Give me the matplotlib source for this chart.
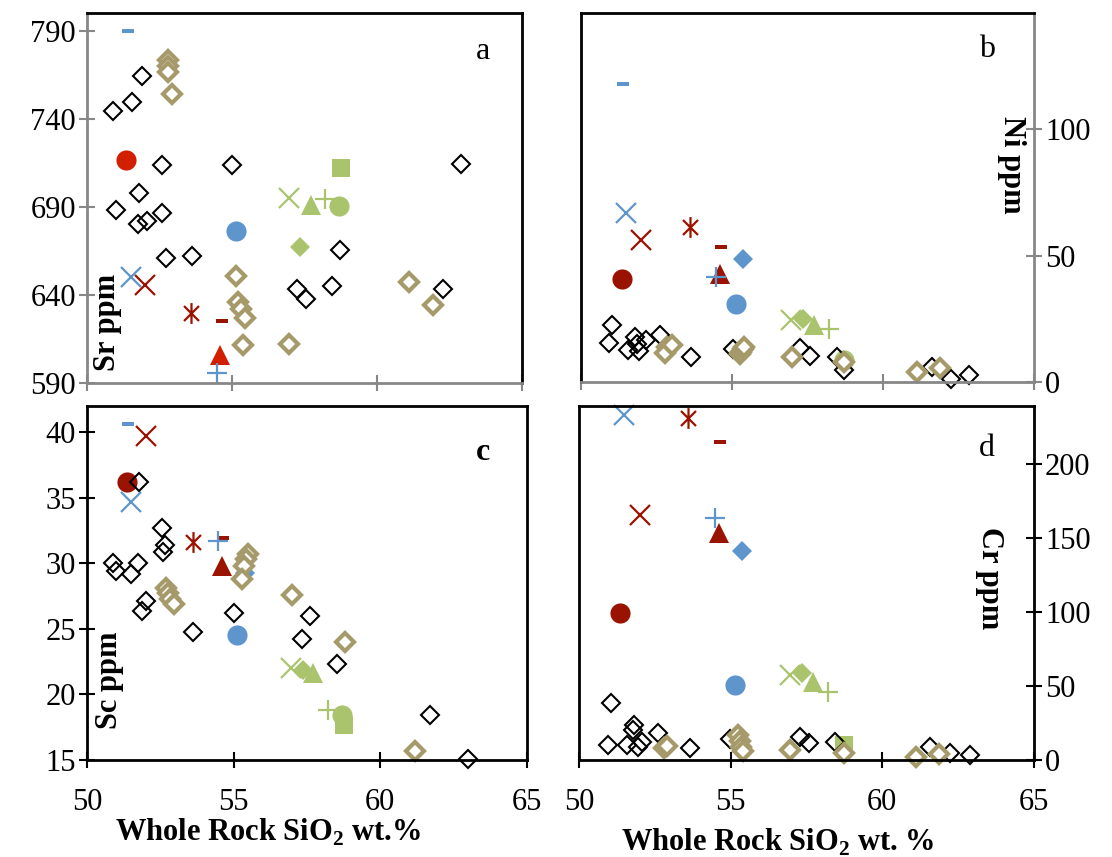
import numpy as np
import matplotlib
matplotlib.use("Agg")
import matplotlib.pyplot as plt
from matplotlib.path import Path

plt.rcParams['font.family'] = ['Liberation Serif', 'DejaVu Serif']
plt.rcParams['mathtext.fontset'] = 'custom'
plt.rcParams['mathtext.rm'] = 'Liberation Serif'
plt.rcParams['mathtext.bf'] = 'Liberation Serif:bold'

# single-sample symbols: SiO2 and element contents (nan = not shown)
sym_names = ['red_x', 'red_star', 'red_dash', 'red_tri', 'red_circ',
             'blue_dash', 'blue_x', 'blue_plus', 'blue_diam', 'blue_circ',
             'green_x', 'green_diam', 'green_tri', 'green_plus', 'green_circ', 'green_sq']
sym_sio2 = [52.0, 53.6, 54.65, 54.6, 51.35,
            51.4, 51.5, 54.47, 55.38, 55.13,
            56.97, 57.35, 57.72, 58.2, 58.7, 58.75]
sym_sr = [645.7, 629.6, 625.4, 606.0, 716.7,
          790.0, 650.0, 595.5, np.nan, 676.5,
          695.0, 667.0, 691.0, 694.4, 690.6, 712.0]
sym_ni = [56.2, 61.4, 53.5, 42.8, 40.6,
          118.0, 67.0, 41.5, 48.7, 31.0,
          24.4, 25.0, 22.4, 20.9, 8.7, np.nan]
sym_sc = [39.7, 31.6, 31.95, 29.8, 36.2,
          40.6, 34.7, 31.7, 29.3, 24.5,
          22.0, 21.9, 21.6, 18.8, 18.4, 17.7]
sym_cr = [165.5, 231.0, 215.0, 153.0, 99.1,
          np.nan, 233.0, 163.3, 141.4, 50.7,
          57.4, 58.6, 52.9, 46.2, np.nan, 10.0]

# black open diamonds
blk_sr_x = [50.9, 51.56, 51.9, 52.6, 55.0, 51.8, 51.0, 51.75, 52.06, 52.57, 52.72, 53.63,
            57.23, 57.55, 58.72, 58.46, 62.26, 62.88]
blk_sr_y = [744.5, 749.7, 764.0, 713.5, 713.5, 698.0, 688.3, 680.0, 682.0, 686.4, 660.8, 662.3,
            643.2, 637.5, 665.6, 645.3, 643.4, 714.4]
blk_ni_x = [51.04, 50.94, 51.79, 51.57, 51.93, 52.15, 52.62, 53.64, 55.04, 57.25, 57.58, 58.47,
            58.72, 61.61, 62.24, 62.86, 51.85]
blk_ni_y = [22.4, 15.5, 17.8, 12.6, 12.3, 16.5, 18.5, 10.0, 12.9, 13.3, 10.4, 10.0,
            4.7, 6.0, 1.1, 2.8, 15.0]
blk_sc_x = [51.77, 52.57, 52.65, 52.6, 50.87, 51.0, 51.74, 51.5, 52.0, 51.87, 53.63, 55.0,
            57.6, 57.32, 58.53, 61.7, 62.98]
blk_sc_y = [36.2, 32.7, 31.4, 30.9, 30.0, 29.4, 30.0, 29.2, 27.1, 26.4, 24.8, 26.2,
            26.0, 24.2, 22.3, 18.4, 15.05]
blk_cr_x = [51.05, 51.82, 51.77, 50.95, 51.57, 51.96, 52.07, 52.62, 53.66, 54.98, 57.27, 57.57,
            58.45, 61.58, 62.24, 62.88]
blk_cr_y = [38.3, 23.6, 20.3, 10.1, 10.1, 9.0, 12.4, 18.0, 7.9, 14.0, 15.3, 11.3,
            12.4, 9.0, 5.0, 3.4]

# tan open diamonds
tan_sr_x = [52.78, 52.78, 52.78, 52.94, 55.14, 55.2, 55.3, 55.45, 55.37, 56.98, 61.1, 61.92]
tan_sr_y = [773.5, 769.7, 766.3, 754.2, 651.0, 636.0, 632.0, 627.0, 611.6, 612.0, 647.6, 634.3]
tan_ni_x = [52.84, 52.78, 53.0, 55.25, 55.3, 55.35, 55.4, 56.98, 58.71, 61.12, 61.89]
tan_ni_y = [13.9, 11.3, 14.6, 11.0, 12.0, 13.0, 14.0, 10.0, 7.8, 4.1, 5.4]
tan_sc_x = [55.49, 55.42, 55.35, 55.28, 52.7, 52.75, 52.82, 52.95, 57.0, 58.78, 61.19]
tan_sc_y = [30.7, 30.3, 29.8, 28.8, 28.1, 27.7, 27.3, 26.9, 27.6, 24.0, 15.7]
tan_cr_x = [52.8, 52.9, 55.25, 55.3, 55.35, 55.4, 56.96, 58.72, 61.1, 61.87]
tan_cr_y = [7.9, 9.5, 17.0, 13.0, 9.0, 6.0, 6.8, 5.0, 2.3, 3.8]

DARKRED = '#9A1200'
BRIGHTRED = '#D11F00'
BLUE = '#5E95CC'
GREEN = '#AAC46E'
TAN = '#A6996A'
GRAY = '#878787'

asterisk = Path([(0, 1), (0, -1), (-0.72, 0.72), (0.72, -0.72), (-0.72, -0.72), (0.72, 0.72)],
                [Path.MOVETO, Path.LINETO] * 3)
dash = Path([(-1, -0.38), (1, -0.38), (1, 0.38), (-1, 0.38), (-1, -0.38)],
            [Path.MOVETO, Path.LINETO, Path.LINETO, Path.LINETO, Path.CLOSEPOLY])

sym_style = {
    'red_x': dict(marker='x', ms=14, mew=1.6, mec=DARKRED),
    'red_star': dict(marker=asterisk, ms=15, mew=1.6, mec=DARKRED),
    'red_dash': dict(marker=dash, ms=9, mew=0, mfc=DARKRED),
    'red_tri': dict(marker='^', ms=14, mew=0, mfc=DARKRED),
    'red_circ': dict(marker='o', ms=14.5, mew=0, mfc=DARKRED),
    'blue_dash': dict(marker=dash, ms=9, mew=0, mfc=BLUE),
    'blue_x': dict(marker='x', ms=14, mew=1.6, mec=BLUE),
    'blue_plus': dict(marker='+', ms=15, mew=1.6, mec=BLUE),
    'blue_diam': dict(marker='D', ms=10, mew=0, mfc=BLUE),
    'blue_circ': dict(marker='o', ms=14.5, mew=0, mfc=BLUE),
    'green_x': dict(marker='x', ms=14, mew=1.6, mec=GREEN),
    'green_diam': dict(marker='D', ms=10, mew=0, mfc=GREEN),
    'green_tri': dict(marker='^', ms=14, mew=0, mfc=GREEN),
    'green_plus': dict(marker='+', ms=15, mew=1.6, mec=GREEN),
    'green_circ': dict(marker='o', ms=14.5, mew=0, mfc=GREEN),
    'green_sq': dict(marker='s', ms=13.5, mew=0, mfc=GREEN),
}

fig = plt.figure(figsize=(11.12, 8.57), dpi=100)
W, H = 1112.0, 857.0


def px_axes(l, r, t, b):
    return fig.add_axes([l / W, 1 - b / H, (r - l) / W, (b - t) / H])


def draw_panel(ax, vals, bx, by, tx, ty, bright=False):
    for name, xv, yv in zip(sym_names, sym_sio2, vals):
        if np.isnan(yv):
            continue
        st = dict(sym_style[name])
        if bright and name in ('red_tri', 'red_circ'):
            st['mfc'] = BRIGHTRED
        ax.plot([xv], [yv], linestyle='none', clip_on=False, **st)
    ax.plot(bx, by, linestyle='none', marker='D', ms=9.5, mfc='none', mec='black',
            mew=1.5, clip_on=False)
    ax.plot(tx, ty, linestyle='none', marker='D', ms=9.5, mfc='white', mec=TAN,
            mew=3, clip_on=False)
    ax.set_xlim(50, 65)
    ax.set_xticks([50, 55, 60, 65])


def style_axes(ax, axis_color, frame_color, yside):
    for s in ax.spines.values():
        s.set_linewidth(2)
        s.set_color(frame_color)
    ax.spines['bottom'].set_color(axis_color)
    ax.spines[yside].set_color(axis_color)
    ax.tick_params(direction='inout', length=12, width=1.5, color=axis_color,
                   labelsize=22, labelcolor='black')
    ax.tick_params(axis='x', pad=14)
    ax.tick_params(axis='y', pad=2)
    if yside == 'right':
        ax.yaxis.tick_right()


# a: Sr
ax_a = px_axes(87, 522, 13, 383)
draw_panel(ax_a, sym_sr, blk_sr_x, blk_sr_y, tan_sr_x, tan_sr_y, bright=True)
ax_a.set_ylim(590, 800)
ax_a.set_yticks([590, 640, 690, 740, 790])
style_axes(ax_a, GRAY, 'black', 'left')
ax_a.set_xticklabels([])
ax_a.text(0.048, 0.165, 'Sr ppm', transform=ax_a.transAxes, rotation=90, fontsize=22,
          fontweight='bold', ha='center', va='center')
ax_a.text(0.91, 0.895, 'a', transform=ax_a.transAxes, fontsize=23, ha='center', va='center')

# b: Ni
ax_b = px_axes(581, 1034, 13, 382)
draw_panel(ax_b, sym_ni, blk_ni_x, blk_ni_y, tan_ni_x, tan_ni_y)
ax_b.set_ylim(0, 146)
ax_b.set_yticks([0, 50, 100])
style_axes(ax_b, GRAY, 'black', 'right')
ax_b.set_xticklabels([])
ax_b.text(0.951, 0.588, 'Ni ppm', transform=ax_b.transAxes, rotation=270, fontsize=22,
          fontweight='bold', ha='center', va='center')
ax_b.text(0.896, 0.90, 'b', transform=ax_b.transAxes, fontsize=23, ha='center', va='center')

# c: Sc
ax_c = px_axes(87, 527, 406, 760)
draw_panel(ax_c, sym_sc, blk_sc_x, blk_sc_y, tan_sc_x, tan_sc_y)
ax_c.set_ylim(15, 42)
ax_c.set_yticks([15, 20, 25, 30, 35, 40])
style_axes(ax_c, 'black', 'black', 'left')
ax_c.text(0.052, 0.226, 'Sc ppm', transform=ax_c.transAxes, rotation=90, fontsize=22,
          fontweight='bold', ha='center', va='center')
ax_c.text(0.9, 0.87, 'c', transform=ax_c.transAxes, fontsize=23, fontweight='bold',
          ha='center', va='center')

# d: Cr
ax_d = px_axes(579, 1034, 406, 760)
draw_panel(ax_d, sym_cr, blk_cr_x, blk_cr_y, tan_cr_x, tan_cr_y)
ax_d.set_ylim(0, 239)
ax_d.set_yticks([0, 50, 100, 150, 200])
style_axes(ax_d, 'black', 'black', 'right')
ax_d.text(0.903, 0.514, 'Cr ppm', transform=ax_d.transAxes, rotation=270, fontsize=22,
          fontweight='bold', ha='center', va='center')
ax_d.text(0.897, 0.881, 'd', transform=ax_d.transAxes, fontsize=23, ha='center', va='center')

fig.text(268 / W, 1 - 832 / H, r'Whole Rock SiO$_\mathbf{2}$ wt.%', fontsize=22,
         fontweight='bold', ha='center', va='center')
fig.text(778 / W, 1 - 842 / H, r'Whole Rock SiO$_\mathbf{2}$ wt. %', fontsize=22,
         fontweight='bold', ha='center', va='center')

fig.savefig('out.png', dpi=100)
